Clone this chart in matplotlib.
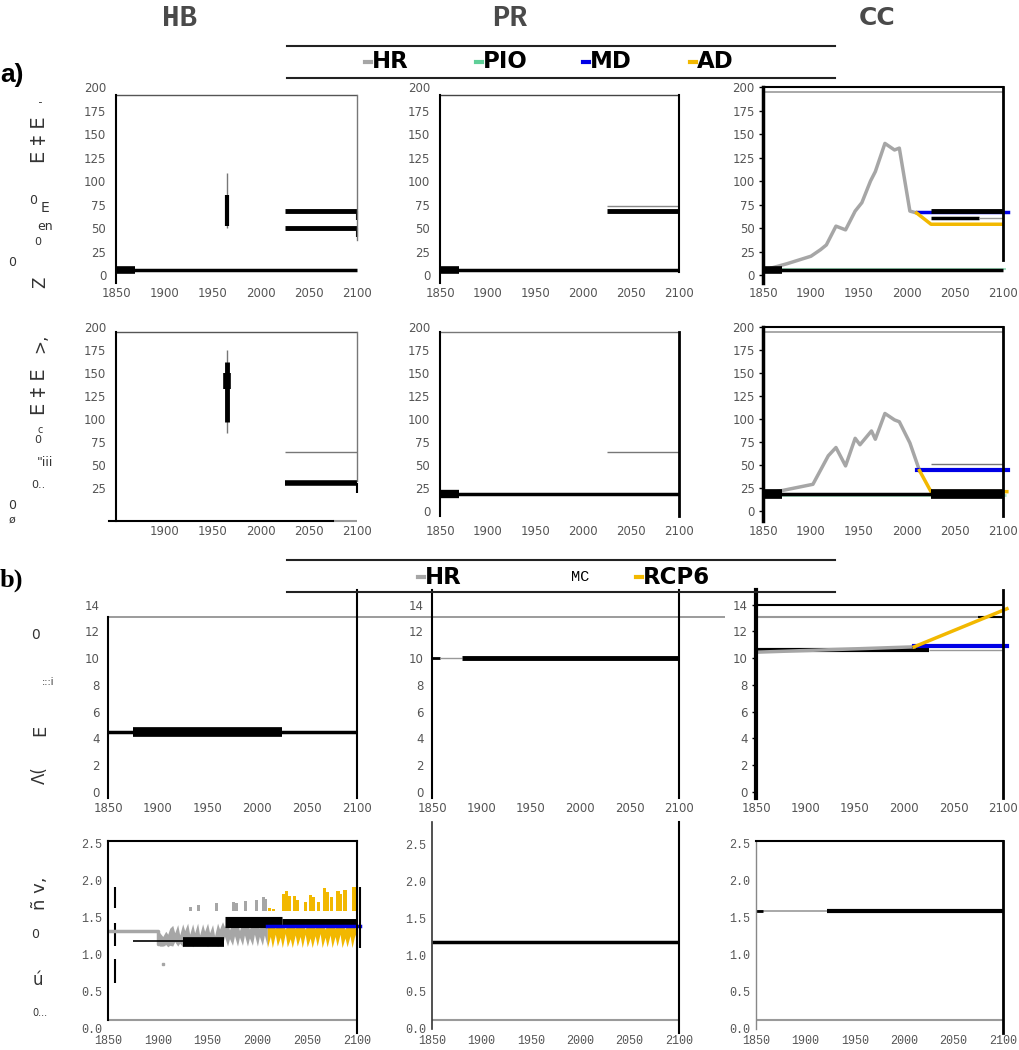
import matplotlib.pyplot as plt
from matplotlib.lines import Line2D

W, H = 1019, 1050
HR_C = '#a6a6a6'
PIO_C = '#a3dfc0'
MD_C = '#0000e6'
AD_C = '#f2b800'
TICK_C = '#555555'

# ---------------- data ----------------
x_ticks = [1850, 1900, 1950, 2000, 2050, 2100]
x_ticks_nofirst = [1900, 1950, 2000, 2050, 2100]
a_yticks = [0, 25, 50, 75, 100, 125, 150, 175, 200]
a_yticks_hb2 = [25, 50, 75, 100, 125, 150, 175, 200]
b1_yticks = [0, 2, 4, 6, 8, 10, 12, 14]
b2_yticks = [0.0, 0.5, 1.0, 1.5, 2.0, 2.5]
b2_ylabels = ['0.0', '0.5', '1.0', '1.5', '2.0', '2.5']

# a) row 1
hb1_base = 5
hb1_bar_lo, hb1_bar_hi = 52, 85
hb1_wsk_lo, hb1_wsk_hi = 50, 108
hb1_future = [68, 50]
pr1_base = 5
pr1_future = 68
pr1_future_gray = 73.5
cc1_years = [1850, 1875, 1900, 1910, 1916, 1926, 1936, 1946, 1953, 1962, 1967, 1977, 1987, 1992, 2003, 2010]
cc1_hr = [5, 12, 20, 27, 32, 52, 48, 68, 77, 100, 110, 140, 133, 135, 68, 66]
cc1_ad_years = [2010, 2025, 2100]
cc1_ad = [66, 54, 54]
cc1_md = 66.5
cc1_pio = 6.5
cc1_base = 5
cc1_future = [68, 61]

# a) row 2
hb2_wsk_lo, hb2_wsk_hi = 85, 175
hb2_bar_lo, hb2_bar_hi = 97, 162
hb2_box_lo, hb2_box_hi = 133, 150
hb2_future = 30
hb2_future_gray = 64
pr2_base = 18
pr2_future_gray = 64
cc2_years = [1850, 1902, 1918, 1926, 1936, 1946, 1951, 1963, 1967, 1977, 1987, 1992, 2003, 2013]
cc2_hr = [18, 29, 60, 69, 49, 79, 72, 87, 78, 106, 99, 97, 74, 44]
cc2_ad_years = [2013, 2025, 2104]
cc2_ad = [44, 21, 21]
cc2_md = 44.5
cc2_pio = 17
cc2_base = 18.5
cc2_future_gray = 51

# b) row 1
hb3_level = 4.5
hb3_gray = 13.1
pr3_level = 10
cc3_top = 14
cc3_gray = 13.1
cc3_hr_years = [1850, 2010]
cc3_hr = [10.45, 10.85]
cc3_black = 10.6
cc3_md = 10.9
cc3_rcp_years = [2010, 2104]
cc3_rcp = [10.85, 13.7]

# b) row 2
hb4_bottom = 0.12
hb4_hr_step_years = [1850, 1900, 1900, 1905]
hb4_hr_step = [1.33, 1.33, 1.15, 1.15]
hb4_dash_lo = [1.63, 1.12, 0.62]
hb4_dash_hi = [1.92, 1.43, 0.94]
hb4_gray_yr = [1900, 1902, 1905, 1908, 1910, 1912, 1915, 1917, 1920, 1922, 1925, 1927, 1930, 1932, 1935,
               1937, 1940, 1942, 1945, 1947, 1950, 1952, 1955, 1957, 1960, 1962, 1965, 1967, 1970, 1972,
               1975, 1977, 1980, 1982, 1985, 1987, 1990, 1992, 1995, 1997, 2000, 2002, 2005, 2007, 2010]
hb4_gray_hi = [1.33, 1.30, 1.25, 1.32, 1.28, 1.36, 1.40, 1.30, 1.41, 1.27, 1.42, 1.33, 1.43, 1.28, 1.42,
               1.30, 1.43, 1.27, 1.42, 1.32, 1.43, 1.30, 1.41, 1.26, 1.43, 1.35, 1.45, 1.38, 1.44, 1.34,
               1.45, 1.37, 1.44, 1.33, 1.45, 1.38, 1.44, 1.35, 1.45, 1.39, 1.44, 1.36, 1.45, 1.40, 1.44]
hb4_gray_lo = [1.15, 1.12, 1.12, 1.14, 1.11, 1.13, 1.12, 1.18, 1.12, 1.16, 1.11, 1.15, 1.12, 1.19, 1.11,
               1.15, 1.12, 1.20, 1.12, 1.16, 1.11, 1.18, 1.12, 1.20, 1.11, 1.17, 1.13, 1.25, 1.12, 1.22,
               1.13, 1.26, 1.12, 1.24, 1.13, 1.27, 1.12, 1.23, 1.13, 1.28, 1.12, 1.25, 1.13, 1.27, 1.12]
hb4_yel_yr = [2010, 2013, 2015, 2018, 2020, 2023, 2025, 2028, 2030, 2033, 2035, 2038, 2040, 2043, 2045,
              2048, 2050, 2053, 2055, 2058, 2060, 2063, 2065, 2068, 2070, 2073, 2075, 2078, 2080, 2083,
              2085, 2088, 2090, 2093, 2095, 2098, 2100]
hb4_yel_hi = [1.40, 1.38, 1.42, 1.36, 1.41, 1.37, 1.42, 1.35, 1.41, 1.38, 1.42, 1.36, 1.41, 1.37, 1.42,
              1.35, 1.41, 1.38, 1.42, 1.36, 1.41, 1.37, 1.42, 1.35, 1.41, 1.38, 1.42, 1.36, 1.41, 1.37,
              1.42, 1.35, 1.41, 1.38, 1.42, 1.36, 1.41]
hb4_yel_lo = [1.10, 1.25, 1.10, 1.28, 1.12, 1.24, 1.10, 1.29, 1.11, 1.22, 1.10, 1.27, 1.12, 1.25, 1.10,
              1.28, 1.11, 1.23, 1.10, 1.26, 1.12, 1.29, 1.10, 1.24, 1.11, 1.27, 1.10, 1.25, 1.12, 1.28,
              1.10, 1.23, 1.11, 1.26, 1.10, 1.28, 1.10]
spike_base = 1.6
hb4_gray_spike_yr = [1933, 1941, 1959, 1976, 1979, 1988, 1999, 2006, 2008]
hb4_gray_spike_top = [1.65, 1.68, 1.70, 1.72, 1.70, 1.73, 1.74, 1.78, 1.75]
hb4_yel_spike_yr = [2012, 2016, 2026, 2029, 2032, 2037, 2040, 2048, 2053, 2056, 2061, 2067, 2070,
                    2074, 2081, 2083, 2088, 2097, 2100]
hb4_yel_spike_top = [1.63, 1.62, 1.82, 1.86, 1.80, 1.79, 1.74, 1.72, 1.81, 1.78, 1.72, 1.90, 1.85,
                     1.78, 1.86, 1.82, 1.88, 1.92, 1.90]
hb4_thin = 1.19
hb4_mid = 1.18
hb4_high = 1.45
hb4_high2 = 1.44
hb4_md = 1.385
pr4_level = 1.18
cc4_level = 1.6

# ---------------- figure ----------------
fig = plt.figure(figsize=(W / 100, H / 100), dpi=100)


def add_ax(x0, y0, x1, y1):
    return fig.add_axes([x0 / W, 1 - y1 / H, (x1 - x0) / W, (y1 - y0) / H])


def style(ax, ylim, yticks, xticks=x_ticks, font='DejaVu Sans', ypad=7, xpad=3, ticklen=0,
          ylabels=None, size=8.5):
    ax.set_xlim(1850, 2100)
    ax.set_ylim(*ylim)
    ax.set_xticks(xticks)
    ax.set_yticks(yticks)
    if ylabels is not None:
        ax.set_yticklabels(ylabels)
    for s in ax.spines.values():
        s.set_visible(False)
    ax.tick_params(axis='y', length=ticklen, width=1, color='k', pad=ypad, labelcolor=TICK_C, labelsize=size)
    ax.tick_params(axis='x', length=0, pad=xpad, labelcolor=TICK_C, labelsize=size)
    for lab in ax.get_xticklabels() + ax.get_yticklabels():
        lab.set_family(font)
    ax.patch.set_alpha(0)


def spine(ax, side, lo, hi, color='k', lw=1.5):
    s = ax.spines[side]
    s.set_visible(True)
    s.set_bounds(lo, hi)
    s.set_color(color)
    s.set_linewidth(lw)


def hline(ax, x0, x1, y, lw, color='k', **kw):
    ax.plot([x0, x1], [y, y], color=color, lw=lw, solid_capstyle='butt', clip_on=False, **kw)


def vline(ax, x, y0, y1, lw, color='k'):
    ax.plot([x, x], [y0, y1], color=color, lw=lw, solid_capstyle='butt', clip_on=False)


# ---------- a) row 1 ----------
ax = add_ax(116, 87, 357, 283)
style(ax, (-8.5, 200), a_yticks)
hline(ax, 1850, 2100, hb1_base, 2.5)
hline(ax, 1850, 1870, hb1_base, 5.5)
vline(ax, 1965, hb1_wsk_lo, hb1_wsk_hi, 1, '#777777')
vline(ax, 1965, hb1_bar_lo, hb1_bar_hi, 3)
for v in hb1_future:
    hline(ax, 2025, 2100, v, 3.5)
    vline(ax, 2100, v - 10, v, 1.5)
hline(ax, 1850, 2100, 192, 1, '#555555')
spine(ax, 'left', -8.5, 192)
spine(ax, 'right', 37, 192, '#777777', 1)

ax = add_ax(440, 87, 679, 283)
style(ax, (-8.5, 200), a_yticks)
hline(ax, 1850, 2100, pr1_base, 2.5)
hline(ax, 1850, 1870, pr1_base, 5.5)
hline(ax, 2025, 2100, pr1_future_gray, 1, '#888888')
hline(ax, 2025, 2100, pr1_future, 3.5)
hline(ax, 1850, 2100, 192, 1, '#444444')
spine(ax, 'left', -8.5, 192)
spine(ax, 'right', 3, 192)

ax = add_ax(763, 87, 1003, 283)
style(ax, (-8.5, 200), a_yticks, ticklen=3, ypad=3)
ax.plot(cc1_years, cc1_hr, color=HR_C, lw=2.5)
ax.plot([2010, 2105], [cc1_md, cc1_md], color=MD_C, lw=2.5, clip_on=False)
ax.plot(cc1_ad_years, cc1_ad, color=AD_C, lw=2.5)
hline(ax, 2025, 2100, cc1_future[0], 3.5)
hline(ax, 2025, 2075, cc1_future[1], 2.5)
hline(ax, 2075, 2100, cc1_future[1], 1, '#999999')
hline(ax, 1850, 2103, cc1_pio, 1.5, PIO_C)
hline(ax, 1850, 2100, cc1_base, 2.5)
hline(ax, 1850, 1870, cc1_base, 5.5)
hline(ax, 1850, 2100, 195, 1.2, '#999999')
spine(ax, 'top', 1850, 2100)
spine(ax, 'left', -8.5, 200, lw=2.5)
spine(ax, 'right', 16, 200, lw=2)

# ---------- a) row 2 ----------
ax = add_ax(116, 327, 357, 521)
style(ax, (-10.9, 200), a_yticks_hb2, xticks=x_ticks_nofirst)
vline(ax, 1965, hb2_wsk_lo, hb2_wsk_hi, 1, '#777777')
vline(ax, 1965, hb2_bar_lo, hb2_bar_hi, 3.5)
vline(ax, 1965, hb2_box_lo, hb2_box_hi, 5.5)
hline(ax, 2025, 2100, hb2_future_gray, 1, '#777777')
hline(ax, 2025, 2100, hb2_future, 4)
vline(ax, 2100, hb2_future - 11, hb2_future, 1.5)
hline(ax, 1850, 2100, 194.6, 1, '#555555')
hline(ax, 2075, 2100, -10.9, 1.5, '#999999')
spine(ax, 'left', -10.9, 194.6)
spine(ax, 'bottom', 1843, 2075)
spine(ax, 'right', 33, 194.6, '#777777', 1)

ax = add_ax(440, 327, 679, 521)
style(ax, (-10.9, 200), a_yticks)
hline(ax, 1850, 2100, pr2_base, 2.5)
hline(ax, 1850, 1870, pr2_base, 6)
hline(ax, 2025, 2100, pr2_future_gray, 1, '#777777')
hline(ax, 1850, 2100, 194.6, 1, '#777777')
spine(ax, 'left', -5, 194.6)
spine(ax, 'right', -5, 194.6, lw=2)

ax = add_ax(763, 327, 1003, 521)
style(ax, (-10.9, 200), a_yticks, ticklen=3, ypad=3)
ax.plot(cc2_years, cc2_hr, color=HR_C, lw=2.5)
ax.plot([2010, 2105], [cc2_md, cc2_md], color=MD_C, lw=3, clip_on=False)
ax.plot(cc2_ad_years, cc2_ad, color=AD_C, lw=2.5, clip_on=False)
hline(ax, 2025, 2100, cc2_future_gray, 1, '#777777')
hline(ax, 1850, 2103, cc2_pio, 2, PIO_C)
hline(ax, 1850, 2100, cc2_base, 2.5)
hline(ax, 1850, 1870, cc2_base, 7)
hline(ax, 2025, 2100, cc2_base, 7)
hline(ax, 1850, 2100, 195, 1.2, '#999999')
spine(ax, 'top', 1850, 2100)
spine(ax, 'left', -10.9, 200, lw=2.5)
spine(ax, 'right', -5, 200, lw=2)

# ---------- b) row 1 ----------
ax = add_ax(108, 590, 357, 798)
style(ax, (-0.45, 15.1), b1_yticks, ypad=6)
hline(ax, 1850, 2100, hb3_level, 2.5)
hline(ax, 1875, 2025, hb3_level, 7)
hline(ax, 1850, 2469, hb3_gray, 1.2, '#8a8a8a')
spine(ax, 'left', -0.45, hb3_gray)
spine(ax, 'right', -0.45, 15.1)

ax = add_ax(432, 590, 679, 798)
style(ax, (-0.45, 15.1), b1_yticks, ypad=6)
hline(ax, 1850, 1858, pr3_level, 2)
hline(ax, 1858, 1880, pr3_level, 1, '#999999')
hline(ax, 1880, 2100, pr3_level, 3.5)
spine(ax, 'left', -0.45, 15.1)
spine(ax, 'right', -0.45, 15.1)

ax = add_ax(756, 590, 1003, 798)
style(ax, (-0.45, 15.1), b1_yticks, ticklen=3, ypad=3)
hline(ax, 1850, 2100, cc3_top, 1.5)
hline(ax, 1850, 2100, cc3_gray, 1.5, '#999999')
hline(ax, 2075, 2100, cc3_gray, 1.5)
hline(ax, 2025, 2100, cc3_black, 1, '#999999')
hline(ax, 1850, 2025, cc3_black, 3)
ax.plot(cc3_hr_years, cc3_hr, color=HR_C, lw=2.5)
ax.plot([2010, 2104], [cc3_md, cc3_md], color=MD_C, lw=3, clip_on=False)
ax.plot(cc3_rcp_years, cc3_rcp, color=AD_C, lw=2.5, clip_on=False)
spine(ax, 'left', -0.45, 15.1, lw=3)
spine(ax, 'right', -0.45, 15.1, lw=2)

# ---------- b) row 2 ----------
b2_lo = -0.055
ax = add_ax(108, 841, 357, 1033)
style(ax, (b2_lo, 2.54), b2_yticks, font='Liberation Mono', ypad=4, xpad=1.5, ylabels=b2_ylabels, size=8.5)
hline(ax, 1850, 2100, hb4_bottom, 1.5, '#9a9a9a')
for lo, hi in zip(hb4_dash_lo, hb4_dash_hi):
    vline(ax, 1857, lo, hi, 1.5)
ax.plot(hb4_hr_step_years, hb4_hr_step, color=HR_C, lw=2.5)
ax.fill_between(hb4_gray_yr, hb4_gray_lo, hb4_gray_hi, color=HR_C, lw=0)
ax.fill_between(hb4_yel_yr, hb4_yel_lo, hb4_yel_hi, color=AD_C, lw=0)
ax.bar(hb4_gray_spike_yr, [t - spike_base for t in hb4_gray_spike_top], bottom=spike_base,
       width=3, color=HR_C, lw=0)
ax.bar(hb4_yel_spike_yr, [t - spike_base for t in hb4_yel_spike_top], bottom=spike_base,
       width=3.2, color=AD_C, lw=0)
ax.plot([1905], [0.88], 's', color=HR_C, ms=2)
hline(ax, 1875, 1925, hb4_thin, 1.2)
hline(ax, 1925, 1966, hb4_mid, 7)
hline(ax, 1967, 2025, hb4_high, 8)
hline(ax, 2025, 2100, hb4_high2, 5)
ax.plot([2010, 2103], [hb4_md, hb4_md], color=MD_C, lw=2.5, clip_on=False)
vline(ax, 2103, 1.1, 1.92, 1.5)
spine(ax, 'top', 1850, 2100)
spine(ax, 'left', hb4_bottom, 2.54)
spine(ax, 'right', b2_lo, 2.54)

ax = add_ax(432, 822, 679, 1033)
style(ax, (b2_lo, 2.8), b2_yticks, font='Liberation Mono', ypad=4, xpad=1.5, ylabels=b2_ylabels, size=8.5)
hline(ax, 1850, 2100, hb4_bottom, 1.5, '#9a9a9a')
hline(ax, 1850, 2100, pr4_level, 2.5)
spine(ax, 'left', 0.0, 2.8, '#333333', 1.2)
spine(ax, 'right', b2_lo, 2.8)

ax = add_ax(756, 841, 1003, 1033)
style(ax, (b2_lo, 2.54), b2_yticks, font='Liberation Mono', ypad=4, xpad=1.5, ylabels=b2_ylabels, size=8.5)
hline(ax, 1850, 2100, hb4_bottom, 1.5, '#9a9a9a')
hline(ax, 1850, 1922, cc4_level, 1.2, '#999999')
hline(ax, 1850, 1857, cc4_level, 2)
hline(ax, 1922, 2100, cc4_level, 3)
spine(ax, 'top', 1850, 2100)
spine(ax, 'left', 0.0, 2.54, '#888888', 1)
spine(ax, 'right', b2_lo, 2.54, lw=2)

# ---------------- headers, legends, labels ----------------
for x, t, fam, s in [(180, 'HB', 'Liberation Mono', 21), (510, 'PR', 'Liberation Mono', 21),
                     (877, 'CC', 'DejaVu Sans', 18)]:
    fig.text(x / W, 1 - 18 / H, t, family=fam, weight='bold', size=s, color='#4a4a4a',
             ha='center', va='center')

fig.text(0 / W, 1 - 75 / H, 'a)', family='Liberation Sans', weight='bold', size=19, ha='left', va='center')
fig.text(0 / W, 1 - 580 / H, 'b)', family='Liberation Serif', weight='bold', size=19, ha='left', va='center')

for y in (46, 78, 560, 592):
    fig.add_artist(Line2D([287 / W, 835 / W], [1 - y / H, 1 - y / H], color='#222222', lw=1.5))


def legend_item(x, y, label, color, size=16.5):
    fig.add_artist(Line2D([(x - 7) / W, (x - 1) / W], [1 - y / H, 1 - y / H], color=color, lw=3))
    fig.text(x / W, 1 - y / H, label, family='DejaVu Sans', weight='bold', size=size,
             ha='left', va='center', color='black')


legend_item(372, 62, 'HR', HR_C)
legend_item(483, 62, 'PIO', '#5fcf98')
legend_item(590, 62, 'MD', MD_C)
legend_item(697, 62, 'AD', AD_C)
legend_item(425, 577, 'HR', HR_C)
fig.text(580 / W, 1 - 577 / H, 'MC', family='Liberation Mono', size=11, ha='center', va='center')
legend_item(643, 577, 'RCP6', AD_C)

# scanned y-axis label remnants
garble = [
    (40, 140, 'E ‡ E', 90, 14), (43, 100, "'", 90, 8), (33, 200, '0', 0, 9), (45, 208, 'E', 0, 10),
    (45, 226, 'en', 0, 9), (38, 242, '0', 0, 8), (12, 262, '0', 0, 9), (40, 282, 'Z', 90, 12),
    (40, 343, '>,', 90, 12), (40, 392, 'E ‡ E', 90, 14), (40, 430, 'c', 0, 7), (38, 440, '0', 0, 8),
    (45, 462, '"iii', 0, 9), (38, 485, '0..', 0, 8), (12, 505, '0', 0, 9), (12, 520, 'ø', 0, 8),
    (35, 635, '0', 0, 10), (48, 682, ':::i', 0, 7), (40, 730, 'E', 90, 13), (40, 775, 'Λ(', 90, 12),
    (40, 893, 'ñ v,', 90, 13), (35, 935, '0', 0, 9), (38, 980, 'ú', 0, 12), (40, 1013, '0...', 0, 7),
]
for x, y, t, rot, s in garble:
    fig.text(x / W, 1 - y / H, t, rotation=rot, size=s, color='#333333', ha='center', va='center')

fig.savefig('out.png', dpi=100)
